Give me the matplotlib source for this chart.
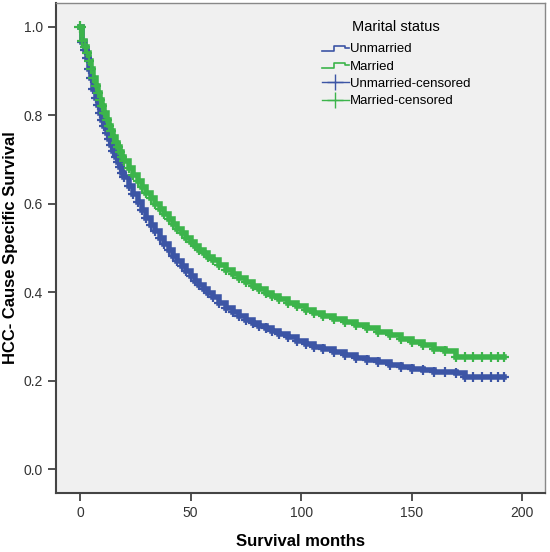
import numpy as np
import matplotlib
matplotlib.use("Agg")
import matplotlib.pyplot as plt
from matplotlib.lines import Line2D
from matplotlib.legend_handler import HandlerLine2D

plt.rcParams['font.family'] = ['Liberation Sans', 'DejaVu Sans']

# Kaplan-Meier estimates
months = [0, 1, 2, 3, 4, 5, 6, 7, 8, 9, 10, 11, 12, 13, 14, 15, 16, 17, 18, 19, 20,
          22, 24, 26, 28, 30, 32, 34, 36, 38, 40, 42, 44, 46, 48, 50, 52, 54, 56, 58, 60,
          63, 66, 69, 72, 75, 78, 81, 84, 87, 90, 94, 98, 102, 106, 110, 115, 120, 125,
          130, 135, 140, 145, 150, 155, 160, 165, 170, 174, 178, 182, 186, 189, 192]

unmarried = [1.0, 0.965, 0.948, 0.93, 0.905, 0.885, 0.86, 0.838, 0.822, 0.805, 0.79,
             0.775, 0.76, 0.745, 0.732, 0.72, 0.706, 0.694, 0.682, 0.670, 0.660,
             0.640, 0.622, 0.603, 0.585, 0.568, 0.552, 0.537, 0.522, 0.508, 0.495,
             0.482, 0.470, 0.458, 0.447, 0.436, 0.426, 0.416, 0.406, 0.397, 0.388,
             0.376, 0.365, 0.355, 0.346, 0.338, 0.331, 0.324, 0.318, 0.312, 0.306,
             0.298, 0.290, 0.283, 0.277, 0.271, 0.264, 0.257, 0.251, 0.246, 0.241,
             0.236, 0.231, 0.227, 0.223, 0.220, 0.219, 0.218, 0.207, 0.207, 0.207,
             0.207, 0.207, 0.207]

married = [1.0, 0.968, 0.955, 0.94, 0.922, 0.905, 0.885, 0.866, 0.85, 0.835, 0.82,
           0.805, 0.79, 0.776, 0.763, 0.75, 0.738, 0.727, 0.716, 0.706, 0.697,
           0.680, 0.665, 0.652, 0.638, 0.625, 0.612, 0.600, 0.588, 0.576, 0.565,
           0.554, 0.543, 0.533, 0.523, 0.514, 0.505, 0.496, 0.488, 0.480, 0.472,
           0.461, 0.450, 0.440, 0.431, 0.422, 0.414, 0.406, 0.399, 0.392, 0.385,
           0.376, 0.368, 0.360, 0.353, 0.347, 0.340, 0.333, 0.326, 0.318, 0.310,
           0.302, 0.294, 0.287, 0.280, 0.272, 0.266, 0.254, 0.254, 0.254, 0.254,
           0.254, 0.254, 0.254]

blue = "#3c55a5"
green = "#3cb44b"


class StepHandler(HandlerLine2D):
    # legend icon drawn as a small step, like SPSS does
    def create_artists(self, legend, orig_handle, xdescent, ydescent, width, height, fontsize, trans):
        x = [-xdescent, width * 0.45, width * 0.45, width * 0.85, width * 0.85, width]
        y = [height * 0.15, height * 0.15, height * 0.75, height * 0.75, height * 0.5, height * 0.5]
        line = Line2D(x, y, color=orig_handle.get_color(), lw=1.2, transform=trans)
        return [line]


fig = plt.figure(figsize=(5.5, 5.52), dpi=100)
ax = fig.add_axes([0.102, 0.107, 0.889, 0.888])
ax.set_facecolor("#f0f0f0")

ax.step(months, unmarried, where="post", color=blue, lw=4, solid_joinstyle="miter")
ax.step(months, married, where="post", color=green, lw=4, solid_joinstyle="miter")
ax.plot(months[1:], unmarried[1:], ls="none", marker="+", ms=7, mew=1.6, color=blue)
ax.plot(months[1:], married[1:], ls="none", marker="+", ms=7, mew=1.6, color=green)
ax.plot([months[0]], [married[0]], ls="none", marker="+", ms=9, mew=1.6, color=green)

ax.set_xlim(-10.9, 210.4)
ax.set_ylim(-0.054, 1.054)
ax.set_xticks([0, 50, 100, 150, 200])
ax.set_yticks([0.0, 0.2, 0.4, 0.6, 0.8, 1.0])
ax.set_yticklabels(["0.0", "0.2", "0.4", "0.6", "0.8", "1.0"])
ax.tick_params(direction="out", length=6, width=1.2, colors="#333333", labelsize=10)

for side in ["left", "bottom"]:
    ax.spines[side].set_color("#444444")
    ax.spines[side].set_linewidth(1.5)
for side in ["top", "right"]:
    ax.spines[side].set_color("#888888")
    ax.spines[side].set_linewidth(1.0)

ax.set_xlabel("Survival months", fontsize=12, fontweight="bold", labelpad=10)
ax.set_ylabel("HCC- Cause Specific Survival", fontsize=12, fontweight="bold")
ax.yaxis.set_label_coords(-0.078, 0.5)

handles = [
    Line2D([], [], color=blue),
    Line2D([], [], color=green),
    Line2D([], [], color=blue, marker="+", ms=12, mew=1.0, lw=1.0),
    Line2D([], [], color=green, marker="+", ms=12, mew=1.0, lw=1.0),
]
labels = ["Unmarried", "Married", "Unmarried-censored", "Married-censored"]
leg = ax.legend(handles, labels, title="Marital status", loc="upper left",
                bbox_to_anchor=(0.52, 0.99), frameon=False, fontsize=9.5,
                title_fontsize=10.5, handlelength=2.0, handletextpad=0.1,
                labelspacing=0.38,
                handler_map={handles[0]: StepHandler(), handles[1]: StepHandler()})
leg._legend_box.align = "center"
leg._legend_box.sep = 7

fig.savefig("out.png", dpi=100)
